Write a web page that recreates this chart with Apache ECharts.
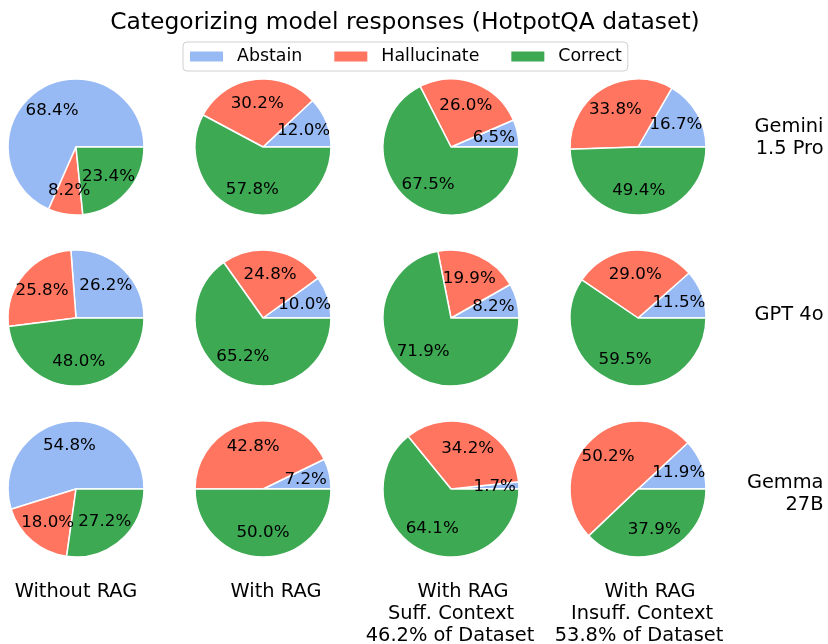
<!DOCTYPE html>
<html><head><meta charset="utf-8">
<script src="https://cdn.jsdelivr.net/npm/echarts@6/dist/echarts.min.js"></script>
<style>html,body{margin:0;padding:0;background:#fff}#c{width:828px;height:644px}</style>
</head><body><div id="c"></div>
<script>
// ---- data ----
const categories = ['Abstain', 'Hallucinate', 'Correct'];
const modelLabels = [['Gemini', '1.5 Pro'], ['GPT 4o'], ['Gemma', '27B']];
const settingLabels = [
  ['Without RAG'],
  ['With RAG'],
  ['With RAG', 'Suff. Context', '46.2% of Dataset'],
  ['With RAG', 'Insuff. Context', '53.8% of Dataset']
];
const titleText = 'Categorizing model responses (HotpotQA dataset)';
const gemini = [[68.4, 8.2, 23.4], [12.0, 30.2, 57.8], [6.5, 26.0, 67.5], [16.7, 33.8, 49.4]];
const gpt4o  = [[26.2, 25.8, 48.0], [10.0, 24.8, 65.2], [8.2, 19.9, 71.9], [11.5, 29.0, 59.5]];
const gemma  = [[54.8, 18.0, 27.2], [7.2, 42.8, 50.0], [1.7, 34.2, 64.1], [11.9, 50.2, 37.9]];
const rows = [gemini, gpt4o, gemma];

// ---- layout / style ----
const colors = ['#97BAF5', '#FF7560', '#3DA952'];
const FONT = 'DejaVu Sans';
const colX = [76, 263, 451, 638];
const rowY = [147, 318, 489];
const R = 68;
const modelLabelY = [[126.5, 148.5], [315], [483, 505]];
const modelLabelRight = 823.5;
const settingLineX = [[76], [276], [463, 451, 450], [650, 642, 639]];
const settingLineY = [591.5, 613.8, 636.2];

const chart = echarts.init(document.getElementById('c'), null, {renderer: 'canvas'});

const fillSeries = [];
const labelSeries = [];
rows.forEach((row, r) => {
  row.forEach((vals, c) => {
    const center = [colX[c], rowY[r]];
    fillSeries.push({
      type: 'pie', center, radius: [0, R], startAngle: 0, clockwise: false,
      animation: false, silent: true, avoidLabelOverlap: false,
      data: categories.map((n, i) => ({name: n, value: vals[i], itemStyle: {color: colors[i]}})),
      label: {show: false}, labelLine: {show: false},
      itemStyle: {borderColor: '#ffffff', borderWidth: 1.5},
      emphasis: {disabled: true}
    });
    // one label series per slice so that overlapping labels are never hidden
    categories.forEach((_, k) => {
      labelSeries.push({
        type: 'pie', center, radius: [R * 0.2, R], startAngle: 0, clockwise: false,
        animation: false, silent: true, avoidLabelOverlap: false, legendHoverLink: false,
        minShowLabelAngle: 0,
        labelLayout: {hideOverlap: false},
        data: categories.map((n, i) => ({name: n, value: vals[i], label: {show: i === k}})),
        itemStyle: {color: 'rgba(0,0,0,0)', borderWidth: 0},
        label: {
          position: 'inside', color: '#000',
          fontFamily: FONT, fontSize: 16.7,
          formatter: p => p.value.toFixed(1) + '%'
        },
        labelLine: {show: false},
        emphasis: {disabled: true}
      });
    });
  });
});

const graphics = [];
graphics.push({
  type: 'text', x: 405, y: 22.5,
  style: {text: titleText, fill: '#000', fontFamily: FONT, fontSize: 23.4,
          textAlign: 'center', textVerticalAlign: 'middle', align: 'center', verticalAlign: 'middle'}
});
modelLabels.forEach((lines, r) => {
  lines.forEach((t, k) => {
    graphics.push({
      type: 'text', x: modelLabelRight, y: modelLabelY[r][k],
      style: {text: t, fill: '#000', fontFamily: FONT, fontSize: 19.4,
              textAlign: 'right', textVerticalAlign: 'middle', align: 'right', verticalAlign: 'middle'}
    });
  });
});
settingLabels.forEach((lines, c) => {
  lines.forEach((t, k) => {
    graphics.push({
      type: 'text', x: settingLineX[c][k], y: settingLineY[k],
      style: {text: t, fill: '#000', fontFamily: FONT, fontSize: 19.4,
              textAlign: 'center', textVerticalAlign: 'middle', align: 'center', verticalAlign: 'middle'}
    });
  });
});

chart.setOption({
  backgroundColor: '#fff',
  animation: false,
  legend: {
    data: categories,
    left: 183, top: 42,
    orient: 'horizontal',
    itemWidth: 35, itemHeight: 12, itemGap: 30,
    icon: 'rect',
    padding: [6, 6, 6, 5],
    borderColor: '#d0d0d0', borderWidth: 1, borderRadius: 4,
    backgroundColor: '#fff',
    selectedMode: false,
    textStyle: {fontFamily: FONT, fontSize: 17.4, color: '#000', padding: [0, 0, 0, 8]}
  },
  series: fillSeries.concat(labelSeries),
  graphic: graphics
});
</script>
</body></html>
